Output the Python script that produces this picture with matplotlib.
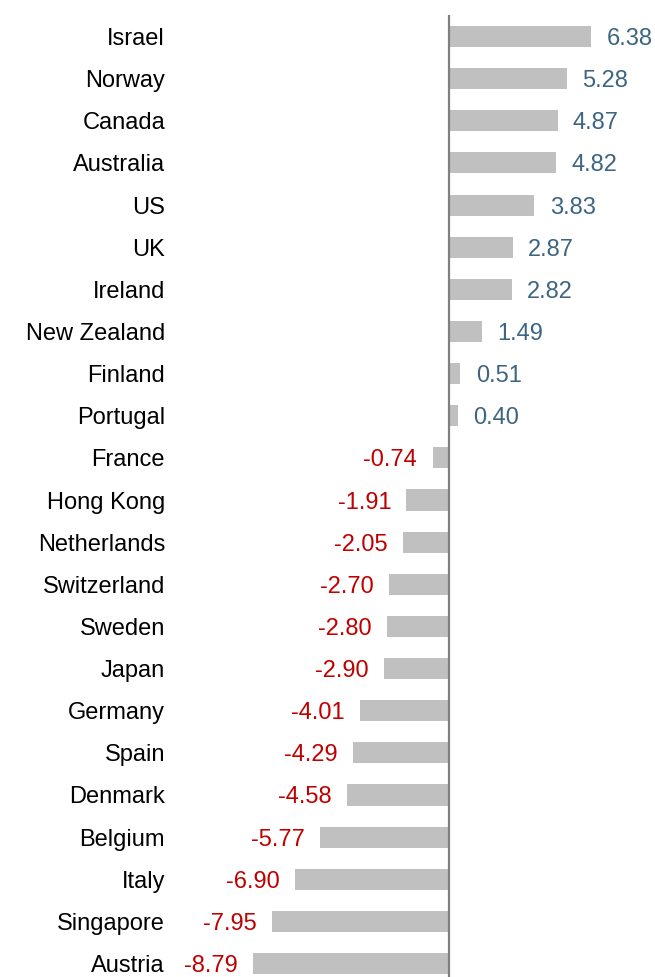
import numpy as np
import matplotlib.pyplot as plt

plt.rcParams['font.family'] = ['Liberation Sans', 'DejaVu Sans']

countries = ['Israel', 'Norway', 'Canada', 'Australia', 'US', 'UK', 'Ireland',
             'New Zealand', 'Finland', 'Portugal', 'France', 'Hong Kong',
             'Netherlands', 'Switzerland', 'Sweden', 'Japan', 'Germany', 'Spain',
             'Denmark', 'Belgium', 'Italy', 'Singapore', 'Austria']
values = [6.38, 5.28, 4.87, 4.82, 3.83, 2.87, 2.82, 1.49, 0.51, 0.40, -0.74,
          -1.91, -2.05, -2.70, -2.80, -2.90, -4.01, -4.29, -4.58, -5.77, -6.90,
          -7.95, -8.79]

W, H = 655, 977
fig = plt.figure(figsize=(W / 100, H / 100), dpi=100)
ax = fig.add_axes([175 / W, 0, (W - 175) / W, (H - 15) / H])

y = np.arange(len(countries))
ax.barh(y, values, height=0.5, color='#c0c0c0')
ax.axvline(0, color='#808080', lw=1.6)

for yi, v in zip(y, values):
    if v >= 0:
        ax.annotate(f'{v:.2f}', (v, yi), xytext=(11, 0), textcoords='offset points',
                    ha='left', va='center_baseline', fontsize=17, color='#3d6582')
    else:
        ax.annotate(f'{v:.2f}', (v, yi), xytext=(-11, 0), textcoords='offset points',
                    ha='right', va='center_baseline', fontsize=17, color='#c00000')

ax.set_xlim(-12.29, 9.24)
ax.set_ylim(22.32, -0.51)
ax.set_yticks(y)
ax.set_yticklabels(countries, fontsize=17)
ax.tick_params(axis='y', length=0, pad=7.2)
ax.set_xticks([])
for s in ax.spines.values():
    s.set_visible(False)

fig.savefig('out.png', dpi=100)
